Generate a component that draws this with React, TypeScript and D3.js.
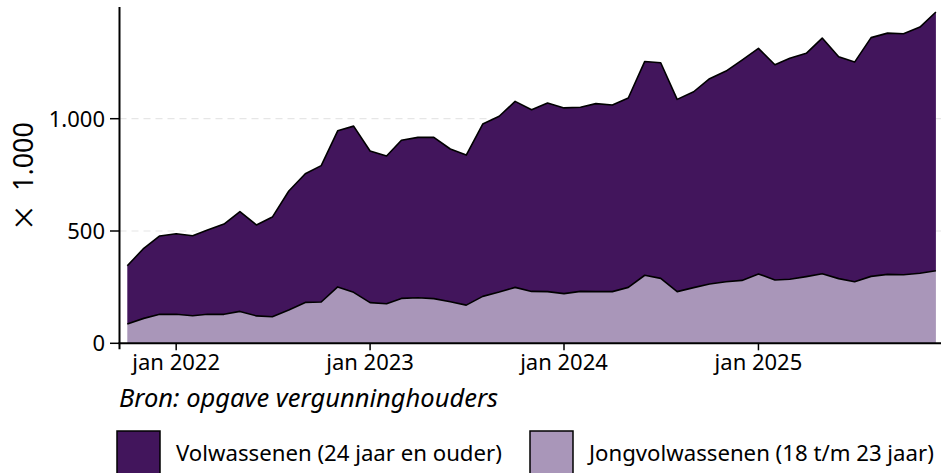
import React from "react";
import * as d3 from "d3";

const months: string[] = [
  "2021-10","2021-11","2021-12",
  "2022-01","2022-02","2022-03","2022-04","2022-05","2022-06","2022-07","2022-08","2022-09","2022-10","2022-11","2022-12",
  "2023-01","2023-02","2023-03","2023-04","2023-05","2023-06","2023-07","2023-08","2023-09","2023-10","2023-11","2023-12",
  "2024-01","2024-02","2024-03","2024-04","2024-05","2024-06","2024-07","2024-08","2024-09","2024-10","2024-11","2024-12",
  "2025-01","2025-02","2025-03","2025-04","2025-05","2025-06","2025-07","2025-08","2025-09","2025-10","2025-11","2025-12",
];

// Jongvolwassenen (18 t/m 23 jaar), x 1.000
const young: number[] = [
  86,111,129,
  129,123,129,129,142,122,118,148,182,184,251,227,
  181,176,200,203,199,185,170,209,228,249,231,230,
  221,231,230,230,249,303,289,230,248,264,274,280,
  309,282,285,297,310,288,274,298,307,305,312,323,
];

// Volwassenen (24 jaar en ouder), x 1.000
const adults: number[] = [
  259,312,349,
  359,356,375,402,444,405,444,530,573,607,695,740,
  675,658,704,714,718,680,668,767,783,828,809,840,
  827,820,837,831,843,952,960,856,872,914,938,981,
  1004,958,984,994,1049,988,978,1063,1074,1073,1096,1152,
];

const yTicks: number[] = [0, 500, 1000];
const xTickYears: number[] = [2022, 2023, 2024, 2025];

const seriesKeys = ["young", "adults"];
const seriesLabels: Record<string, string> = {
  adults: "Volwassenen (24 jaar en ouder)",
  young: "Jongvolwassenen (18 t/m 23 jaar)",
};
const colors: Record<string, string> = {
  adults: "#42155c",
  young: "#a996b9",
};

const W = 941;
const H = 473;
const FONT = "'Noto Sans', 'Open Sans', sans-serif";

export default function App() {
  const parse = d3.timeParse("%Y-%m");
  const rows = months.map((m, i) => ({ date: parse(m) as Date, young: young[i], adults: adults[i] }));

  const x = d3
    .scaleTime()
    .domain([rows[0].date, rows[rows.length - 1].date])
    .range([127.3, 935.9]);
  const y = d3.scaleLinear().domain([0, 1500]).range([343.3, 6.4]);

  const stack = d3.stack<any>().keys(seriesKeys);
  const stacked = stack(rows);

  const area = d3
    .area<any>()
    .x((d) => x(d.data.date))
    .y0((d) => y(d[0]))
    .y1((d) => y(d[1]));
  const topLine = d3
    .line<any>()
    .x((d) => x(d.data.date))
    .y((d) => y(d[1]));

  const axisX = 119.5;
  const baseY = y(0);

  return (
    <div style={{ position: "absolute", left: 0, top: 0 }}>
      <svg width={W} height={H} style={{ display: "block", fontFamily: FONT }}>
        {/* gridlines */}
        {yTicks.filter((t) => t > 0).map((t) => (
          <line key={"g" + t} x1={axisX} x2={W} y1={y(t)} y2={y(t)} stroke="#e6e6e6" strokeWidth={1.2} strokeDasharray="7 5" />
        ))}
        {/* areas */}
        {stacked.map((s) => (
          <path key={s.key} d={area(s) || ""} fill={colors[s.key]} />
        ))}
        {stacked.map((s) => (
          <path key={"l" + s.key} d={topLine(s) || ""} fill="none" stroke="#000" strokeWidth={1.6} strokeLinejoin="round" />
        ))}
        {/* y axis */}
        <line x1={axisX} x2={axisX} y1={7} y2={baseY + 6} stroke="#000" strokeWidth={2} />
        {yTicks.map((t) => (
          <g key={"y" + t}>
            <line x1={110} x2={axisX} y1={y(t)} y2={y(t)} stroke="#000" strokeWidth={1.5} />
            <text x={105} y={y(t)} dy="0.36em" textAnchor="end" fontSize={22} fill="#000">
              {d3.format(",")(t).replace(/,/g, ".")}
            </text>
          </g>
        ))}
        {/* x axis */}
        <line x1={axisX - 1} x2={W} y1={baseY} y2={baseY} stroke="#000" strokeWidth={2} />
        {xTickYears.map((yr) => {
          const xx = x(new Date(yr, 0, 1));
          return (
            <g key={"x" + yr}>
              <line x1={xx} x2={xx} y1={baseY} y2={baseY + 7} stroke="#000" strokeWidth={1.5} />
              <text x={xx} y={370} textAnchor="middle" fontSize={22} fill="#000">
                {"jan " + yr}
              </text>
            </g>
          );
        })}
        {/* y title: "× 1.000" (the × is symmetric, drawn upright) */}
        <text x={24} y={232} textAnchor="middle" fontSize={40} fontWeight={300} fill="#000">
          ×
        </text>
        <text transform="translate(33,156.5) rotate(-90)" textAnchor="middle" fontSize={27} fill="#000">
          1.000
        </text>
        {/* source */}
        <text x={119} y={407} fontSize={25.5} fontStyle="italic" fill="#000">
          Bron: opgave vergunninghouders
        </text>
        {/* legend */}
        {["adults", "young"].map((k, i) => {
          const lx = i === 0 ? 117 : 530;
          return (
            <g key={"lg" + k}>
              <rect x={lx} y={431} width={43} height={43} fill={colors[k]} stroke="#000" strokeWidth={1.5} />
              <text x={lx + 59} y={461} fontSize={22.2} fill="#000">
                {seriesLabels[k]}
              </text>
            </g>
          );
        })}
      </svg>
    </div>
  );
}
